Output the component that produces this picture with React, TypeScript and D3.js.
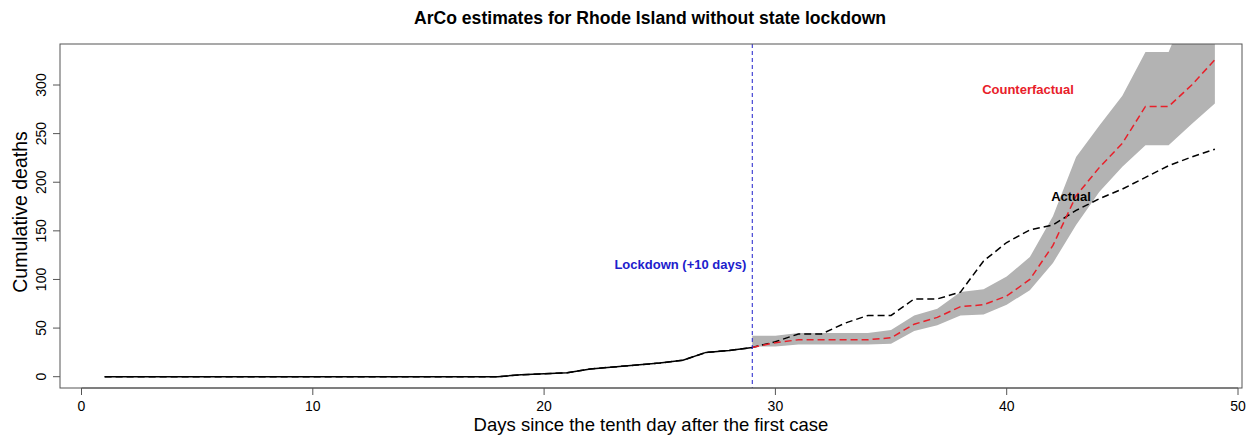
import React, { Component } from 'react';
import * as d3 from 'd3';

// cumulative deaths, days 1..49
const actualDeaths = [
    0, 0, 0, 0, 0, 0, 0, 0, 0, 0, 0, 0, 0, 0, 0, 0, 0, 0,
    2, 3, 4, 8, 10, 12, 14, 17, 25, 27, 30,
    36, 44, 44, 55, 63, 63, 80, 80, 87, 119, 138, 151, 156, 171, 183, 193, 205, 217, 226, 234
];
// counterfactual from the lockdown day (29) to 49
const cfStart = 29;
const counterfactual = [30, 35, 38, 38, 38, 38, 40, 54, 61, 72, 74, 83, 100, 135, 186, 215, 240, 278, 278, 300, 326];
const cfLower = [31, 31, 33, 33, 33, 33, 34, 47, 53, 63, 64, 74, 89, 117, 156, 190, 216, 238, 238, 260, 281];
const cfUpper = [42, 42, 45, 45, 45, 45, 48, 63, 70, 87, 90, 103, 123, 165, 226, 258, 289, 334, 334, 390, 420];
const lockdownDay = 29;
const xTicks = [0, 10, 20, 30, 40, 50];
const yTicks = [0, 50, 100, 150, 200, 250, 300];

const FONT = '"Liberation Sans", Arial, sans-serif';

export default class App extends Component {
    private canvas: any = React.createRef();

    componentDidMount() {
        this.buildChart();
    }

    buildChart = () => {
        const W = 1258, H = 438;
        const box = { left: 60, right: 1242, top: 44, bottom: 388 };

        const x = d3.scaleLinear().domain([0, 50]).range([81.5, 1238]);
        const y = d3.scaleLinear().domain([0, 300]).range([376.7, 85]);

        d3.select(this.canvas.current).selectAll('*').remove();
        const svg = d3.select(this.canvas.current)
            .append('svg')
            .attr('width', W)
            .attr('height', H)
            .style('position', 'absolute')
            .style('left', 0)
            .style('top', 0)
            .style('background', '#fff');

        svg.append('defs').append('clipPath').attr('id', 'plotClip')
            .append('rect')
            .attr('x', box.left).attr('y', box.top)
            .attr('width', box.right - box.left).attr('height', box.bottom - box.top);

        const plot = svg.append('g').attr('clip-path', 'url(#plotClip)');

        const cfIdx = d3.range(counterfactual.length);
        const band = d3.area<number>()
            .x(i => x(cfStart + i))
            .y0(i => y(cfLower[i]))
            .y1(i => y(cfUpper[i]));
        plot.append('path')
            .attr('d', band(cfIdx))
            .attr('fill', '#b3b3b3');

        const actualIdx = d3.range(actualDeaths.length);
        const actualLine = d3.line<number>()
            .x(i => x(i + 1))
            .y(i => y(actualDeaths[i]));

        // observed part before lockdown, solid
        plot.append('path')
            .attr('d', actualLine(actualIdx.filter(i => i + 1 <= lockdownDay)))
            .attr('fill', 'none')
            .attr('stroke', '#000')
            .attr('stroke-width', 1.5);

        plot.append('path')
            .attr('d', actualLine(actualIdx))
            .attr('fill', 'none')
            .attr('stroke', '#000')
            .attr('stroke-width', 1.5)
            .attr('stroke-dasharray', '7,4');

        const cfLine = d3.line<number>()
            .x(i => x(cfStart + i))
            .y(i => y(counterfactual[i]));
        plot.append('path')
            .attr('d', cfLine(cfIdx))
            .attr('fill', 'none')
            .attr('stroke', '#e8202a')
            .attr('stroke-width', 1.5)
            .attr('stroke-dasharray', '7,4');

        svg.append('line')
            .attr('x1', x(lockdownDay)).attr('x2', x(lockdownDay))
            .attr('y1', box.top).attr('y2', box.bottom)
            .attr('stroke', '#2020cc')
            .attr('stroke-width', 1)
            .attr('stroke-dasharray', '4,3');

        // box
        svg.append('rect')
            .attr('x', box.left).attr('y', box.top)
            .attr('width', box.right - box.left).attr('height', box.bottom - box.top)
            .attr('fill', 'none')
            .attr('stroke', '#555')
            .attr('stroke-width', 1);

        // x axis
        svg.append('line')
            .attr('x1', x(0)).attr('x2', x(50))
            .attr('y1', box.bottom).attr('y2', box.bottom)
            .attr('stroke', '#555');
        xTicks.forEach(t => {
            svg.append('line')
                .attr('x1', x(t)).attr('x2', x(t))
                .attr('y1', box.bottom).attr('y2', box.bottom + 7)
                .attr('stroke', '#555');
            svg.append('text')
                .attr('x', x(t)).attr('y', 411)
                .attr('text-anchor', 'middle')
                .attr('font-family', FONT)
                .attr('font-size', 14)
                .text(t);
        });

        // y axis
        yTicks.forEach(t => {
            svg.append('line')
                .attr('x1', box.left - 7).attr('x2', box.left)
                .attr('y1', y(t)).attr('y2', y(t))
                .attr('stroke', '#555');
            svg.append('text')
                .attr('transform', `translate(46,${y(t)}) rotate(-90)`)
                .attr('text-anchor', 'middle')
                .attr('font-family', FONT)
                .attr('font-size', 14)
                .text(t);
        });

        svg.append('text')
            .attr('x', (box.left + box.right) / 2).attr('y', 431)
            .attr('text-anchor', 'middle')
            .attr('font-family', FONT)
            .attr('font-size', 18.5)
            .text('Days since the tenth day after the first case');

        svg.append('text')
            .attr('transform', `translate(27,${(box.top + box.bottom) / 2 - 4}) rotate(-90)`)
            .attr('text-anchor', 'middle')
            .attr('font-family', FONT)
            .attr('font-size', 19.5)
            .text('Cumulative deaths');

        svg.append('text')
            .attr('x', (box.left + box.right) / 2 - 1).attr('y', 24)
            .attr('text-anchor', 'middle')
            .attr('font-family', FONT)
            .attr('font-weight', 'bold')
            .attr('font-size', 17.6)
            .text('ArCo estimates for Rhode Island without state lockdown');

        svg.append('text')
            .attr('x', x(lockdownDay) - 6).attr('y', 269)
            .attr('text-anchor', 'end')
            .attr('font-family', FONT)
            .attr('font-weight', 'bold')
            .attr('font-size', 13)
            .attr('fill', '#2020cc')
            .text('Lockdown (+10 days)');

        svg.append('text')
            .attr('x', 1028).attr('y', 94)
            .attr('text-anchor', 'middle')
            .attr('font-family', FONT)
            .attr('font-weight', 'bold')
            .attr('font-size', 13)
            .attr('fill', '#e8202a')
            .text('Counterfactual');

        svg.append('text')
            .attr('x', 1071).attr('y', 201)
            .attr('text-anchor', 'middle')
            .attr('font-family', FONT)
            .attr('font-weight', 'bold')
            .attr('font-size', 13)
            .attr('fill', '#000')
            .text('Actual');
    }

    render() {
        return (
            <div>
                <div className="arcoChart" ref={this.canvas}></div>
            </div>
        )
    }
}
